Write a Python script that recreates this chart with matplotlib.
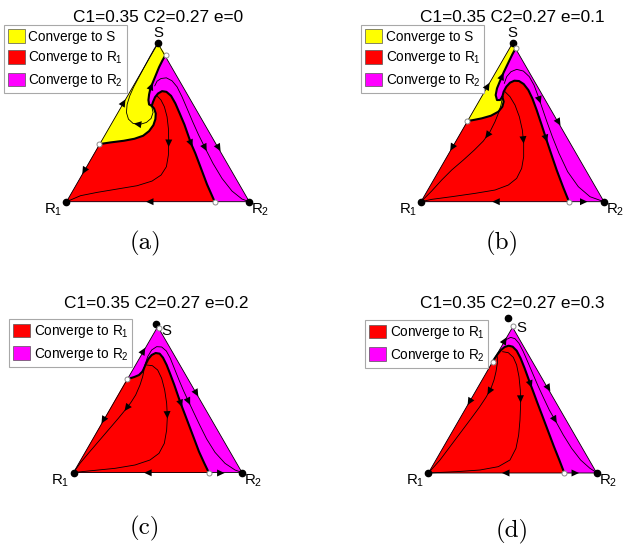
import numpy as np
import matplotlib
matplotlib.use('Agg')
import matplotlib.pyplot as plt
from matplotlib.patches import Patch, Polygon

plt.rcParams['font.family'] = 'Liberation Sans'
plt.rcParams['mathtext.fontset'] = 'custom'
plt.rcParams['mathtext.rm'] = 'Liberation Sans'
plt.rcParams['mathtext.it'] = 'Liberation Sans:italic'

YELLOW, RED, MAGENTA = '#ffff00', '#ff0000', '#ff00ff'

C1, C2 = 0.35, 0.27
E_VALUES = [0, 0.1, 0.2, 0.3]
CAPTIONS = ['(a)', '(b)', '(c)', '(d)']

# Points, in a reading grid per panel:
# frame = (R1 x, R1 y, base length) of that grid, y pointing down.
A_FRAME = (18, 500, 549)
A_SDOT = (293, 24)
A_SADDLES = [(316, 58), (117, 327), (463, 500)]
A_SEP = [(274, 212), (281, 220), (286, 235), (285, 252), (279, 270), (266, 288),
         (248, 302), (222, 311), (190, 317), (150, 322), (117, 327)]
A_TONGUE = [(274, 212), (278, 200), (284, 186), (293, 175), (305, 168), (318, 170),
            (332, 182), (345, 205), (358, 235), (372, 268), (392, 325), (405, 355),
            (422, 400), (440, 448), (463, 500)]
A_TOP = [(274, 212), (266, 208), (264, 195), (266, 178), (270, 160), (278, 140),
         (287, 118), (296, 96), (306, 76), (316, 58)]
A_SPIRAL = [(274, 214), (278, 232), (272, 250), (258, 262), (238, 268), (218, 265),
            (204, 252), (198, 232), (200, 208), (208, 182), (220, 155), (236, 125),
            (252, 95), (268, 65), (282, 40), (293, 24)]
A_MAG = [(283, 152), (290, 138), (302, 130), (318, 128), (335, 137), (350, 155),
         (365, 185), (380, 220), (397, 260), (415, 300), (435, 340), (458, 385),
         (485, 430), (515, 468), (545, 492), (567, 500)]
A_RED1 = [(290, 182), (302, 195), (312, 215), (320, 245), (324, 280), (325, 320),
          (324, 360), (318, 395), (302, 420), (275, 438), (230, 452), (170, 462),
          (110, 472), (60, 482), (18, 500)]
A_EDGES = [[(117, 327), (293, 24)], [(117, 327), (18, 500)],
           [(463, 500), (18, 500)], [(316, 58), (567, 500)]]
A_EDGE_ARROWS = [0.42, 0.48, 0.445, 0.64]

B_FRAME = (18, 500, 549)
B_SDOT = (293, 24)
B_SADDLES = [(303, 38), (157, 258), (462, 500)]
B_SEP = [(262, 185), (266, 200), (262, 215), (250, 230), (228, 242), (200, 250),
         (175, 255), (157, 258)]
B_TONGUE = [(262, 185), (266, 170), (274, 155), (285, 143), (298, 137), (312, 138),
            (326, 147), (340, 165), (352, 190), (365, 225), (380, 270), (393, 310),
            (408, 355), (425, 405), (445, 458), (462, 500)]
B_TOP = [(262, 185), (255, 195), (246, 195), (242, 180), (246, 160), (255, 138),
         (266, 112), (279, 85), (292, 58), (303, 38)]
B_MAG = [(268, 145), (275, 125), (288, 110), (305, 103), (325, 108), (343, 125),
         (357, 150), (370, 185), (382, 220), (395, 258), (412, 305), (432, 355),
         (458, 410), (490, 455), (525, 485), (567, 500)]
B_RED1 = [(262, 188), (258, 210), (250, 235), (240, 260), (225, 290), (205, 318),
          (178, 345), (145, 375), (110, 405), (80, 435), (50, 468), (18, 500)]
B_RED2 = [(270, 170), (285, 185), (300, 210), (313, 245), (322, 285), (326, 325),
          (326, 365), (320, 400), (305, 430), (280, 450), (240, 465), (180, 475),
          (110, 485), (50, 493), (18, 500)]
B_EDGES = [[(157, 258), (293, 24)], [(157, 258), (18, 500)],
           [(462, 500), (18, 500)], [(462, 500), (567, 500)], [(303, 38), (567, 500)]]
B_EDGE_ARROWS = [0.46, 0.34, 0.5, 0.45, 0.49]

C_FRAME = (25.5, 472.5, 505.5)
C_SDOT = (272, 28)
C_SADDLES = [(282, 38), (185, 193), (432, 474)]
C_SEP = [(237, 160), (232, 170), (222, 180), (208, 186), (195, 190), (185, 193)]
C_TONGUE = [(237, 160), (242, 148), (250, 132), (260, 120), (272, 114), (284, 116),
            (294, 128), (305, 150), (316, 178), (328, 210), (340, 245), (352, 278),
            (368, 320), (385, 365), (402, 410), (418, 445), (432, 474)]
C_MAG = [(240, 150), (248, 125), (260, 105), (275, 95), (290, 96), (304, 108),
         (316, 130), (328, 160), (342, 195), (356, 228), (370, 258), (386, 292),
         (404, 330), (425, 372), (450, 412), (480, 445), (510, 465), (530, 472)]
C_RED1 = [(237, 165), (233, 185), (225, 210), (212, 240), (198, 262), (183, 282),
          (160, 310), (130, 345), (100, 380), (70, 415), (45, 445), (25.5, 472.5)]
C_RED2 = [(245, 150), (262, 152), (278, 165), (290, 190), (299, 225), (305, 265),
          (307, 305), (305, 345), (298, 385), (282, 415), (255, 435), (210, 450),
          (150, 460), (90, 466), (25.5, 472.5)]
C_EDGES = [[(185, 193), (278, 35)], [(185, 193), (25.5, 472.5)],
           [(432, 474), (25.5, 472.5)], [(432, 474), (530, 474)], [(282, 38), (530, 472.5)]]
C_EDGE_ARROWS = [0.56, 0.45, 0.46, 0.4, 0.46]

D_FRAME = (25.2, 489, 505)
D_SDOT = (263, 25)
D_SADDLES = [(278, 48), (218, 155), (433, 489)]
D_ARCH = [(218, 155), (224, 145), (233, 132), (243, 120), (254, 111), (266, 107),
          (278, 110), (290, 122), (302, 145), (314, 175), (326, 208), (338, 240),
          (352, 278), (368, 320), (385, 365), (402, 410), (418, 450), (433, 489)]
D_MAG = [(250, 100), (260, 88), (272, 82), (285, 86), (297, 100), (310, 125),
         (323, 155), (338, 190), (353, 225), (370, 262), (388, 300), (408, 335),
         (430, 375), (455, 415), (482, 450), (510, 475), (532, 489)]
D_RED1 = [(232, 140), (232, 160), (228, 185), (222, 210), (213, 235), (198, 262),
          (178, 292), (150, 330), (120, 370), (90, 410), (60, 450), (25.2, 489)]
D_RED2 = [(248, 125), (265, 128), (280, 142), (290, 165), (297, 200), (301, 240),
          (302, 280), (300, 330), (296, 375), (288, 415), (270, 450), (235, 470),
          (180, 480), (110, 485), (25.2, 489)]
D_EDGES = [[(218, 155), (277.5, 51)], [(218, 155), (25.2, 489)],
           [(433, 489), (25.2, 489)], [(433, 489), (532, 489)], [(278, 48), (532, 489)]]
D_EDGE_ARROWS = [0.64, 0.37, 0.44, 0.37, 0.43]

# layout (figure pixels)
FIG_W, FIG_H = 623, 548
BOXES = [(0, 0, 311, 274), (311, 0, 312, 274), (0, 274, 311, 274), (311, 274, 312, 274)]
TRI_PIX = [(66.5, 201.7, 182.8), (421, 201.7, 183), (73.5, 472.5, 168.5), (428.4, 473, 168.3)]
LEG_POS = [(4, 25), (361, 25), (9, 319), (365, 320)]
TITLE_POS = [(158, 21.7), (512.5, 21.7), (156.7, 308.3), (512.5, 308.3)]
CAP_POS = [(146, 243), (502.5, 243), (145, 528), (511.7, 531)]

H = np.sqrt(3) / 2
fig = plt.figure(figsize=(FIG_W / 100, FIG_H / 100), dpi=100)


def to_tri(pts, frame):
    x0, y0, base = frame
    a = np.asarray(pts, float)
    return np.column_stack(((a[:, 0] - x0) / base, (y0 - a[:, 1]) / base))


def add_arrow(ax, pts, frac, size=9):
    seg = np.diff(pts, axis=0)
    seglen = np.hypot(seg[:, 0], seg[:, 1])
    cum = np.concatenate(([0], np.cumsum(seglen)))
    s = frac * cum[-1]
    i = int(np.clip(np.searchsorted(cum, s) - 1, 0, len(seg) - 1))
    p = pts[i] + (s - cum[i]) / seglen[i] * seg[i]
    d = seg[i] / seglen[i]
    ax.annotate('', xy=p + d * 0.015, xytext=p - d * 0.015,
                arrowprops=dict(arrowstyle='-|>,head_length=0.6,head_width=0.28',
                                color='k', lw=0, mutation_scale=size,
                                shrinkA=0, shrinkB=0), zorder=6)


def panel_axes(box, tri):
    bx, by, bw, bh = box
    rx, ry, w = tri
    ax = fig.add_axes([bx / FIG_W, 1 - (by + bh) / FIG_H, bw / FIG_W, bh / FIG_H])
    ax.set_xlim((bx - rx) / w, (bx + bw - rx) / w)
    ax.set_ylim((ry - by - bh) / w, (ry - by) / w)
    ax.axis('off')
    return ax


panels = [
    dict(frame=A_FRAME, sdot=A_SDOT, saddles=A_SADDLES, yellow=(A_SEP, A_TOP),
         red=(A_SEP, A_TONGUE), thick=[(A_SEP, None), (A_TONGUE, 0.57), (A_TOP, 0.4)],
         thin=[(A_SPIRAL, 0.235), (A_MAG, 0.58), (A_RED1, 0.28)],
         edges=A_EDGES, edge_arrows=A_EDGE_ARROWS, s_label='top'),
    dict(frame=B_FRAME, sdot=B_SDOT, saddles=B_SADDLES, yellow=(B_SEP, B_TOP),
         red=(B_SEP, B_TONGUE), thick=[(B_SEP, None), (B_TONGUE, 0.58), (B_TOP, 0.52)],
         thin=[(B_MAG, 0.33), (B_RED1, 0.31), (B_RED2, 0.28)],
         edges=B_EDGES, edge_arrows=B_EDGE_ARROWS, s_label='top'),
    dict(frame=C_FRAME, sdot=C_SDOT, saddles=C_SADDLES, yellow=None,
         red=(C_SEP, C_TONGUE), thick=[(C_SEP, None), (C_TONGUE, 0.52)],
         thin=[(C_MAG, 0.5), (C_RED1, 0.345), (C_RED2, 0.32)],
         edges=C_EDGES, edge_arrows=C_EDGE_ARROWS, s_label=(4, -8)),
    dict(frame=D_FRAME, sdot=D_SDOT, saddles=D_SADDLES, yellow=None,
         red=([D_ARCH[0]], D_ARCH), thick=[(D_ARCH, 0.43)],
         thin=[(D_MAG, 0.61), (D_RED1, 0.27), (D_RED2, 0.28)],
         edges=D_EDGES, edge_arrows=D_EDGE_ARROWS, s_label=(4, -4.5)),
]

for k, p in enumerate(panels):
    ax = panel_axes(BOXES[k], TRI_PIX[k])
    fr = p['frame']
    corners = np.array([[0, 0], [1, 0], [0.5, H]])
    ax.add_patch(Polygon(corners, closed=True, fc=MAGENTA, ec='none', zorder=1))
    if p['yellow'] is not None:
        sep, top = p['yellow']
        pts = np.vstack([[[0.5, H]], to_tri(sep[::-1], fr), to_tri(top, fr)])
        ax.add_patch(Polygon(pts, closed=True, fc=YELLOW, ec='none', zorder=2))
    sep, tongue = p['red']
    pts = np.vstack([[[0, 0]], to_tri(sep[::-1], fr), to_tri(tongue, fr)])
    ax.add_patch(Polygon(pts, closed=True, fc=RED, ec='none', zorder=2))

    ax.plot([0, 1, 0.5, 0], [0, 0, H, 0], color='k', lw=0.6, zorder=3)
    for curve, fa in p['thin']:
        c = to_tri(curve, fr)
        ax.plot(c[:, 0], c[:, 1], color='k', lw=0.6, zorder=4)
        add_arrow(ax, c, fa)
    for curve, fa in p['thick']:
        c = to_tri(curve, fr)
        ax.plot(c[:, 0], c[:, 1], color='k', lw=1.5, zorder=4, solid_capstyle='round')
        if fa is not None:
            add_arrow(ax, c, fa)
    for edge, fa in zip(p['edges'], p['edge_arrows']):
        add_arrow(ax, to_tri(edge, fr), fa)

    sd = to_tri([p['sdot']], fr)[0]
    ax.plot([0, 1, sd[0]], [0, 0, sd[1]], 'o', ms=4.5, color='k', zorder=7)
    sa = to_tri(p['saddles'], fr)
    ax.plot(sa[:, 0], sa[:, 1], 'o', ms=3.6, mfc='white', mec='#8c8c8c', mew=0.7, zorder=7)

    lab = dict(textcoords='offset pixels', fontsize=10.8, va='baseline', zorder=8)
    ax.annotate('R$_1$', xy=(0, 0), xytext=(-4, -12), ha='right', **lab)
    ax.annotate('R$_2$', xy=(1, 0), xytext=(2, -12), ha='left', **lab)
    if p['s_label'] == 'top':
        ax.annotate('S', xy=(0.5, H), xytext=(0, 6.5), ha='center', **lab)
    else:
        ax.annotate('S', xy=(0.5, H), xytext=p['s_label'], ha='left', **lab)

    handles = []
    if p['yellow'] is not None:
        handles.append(Patch(fc=YELLOW, ec='#555555', lw=0.5, label='Converge to S'))
    handles.append(Patch(fc=RED, ec='#555555', lw=0.5, label='Converge to R$_1$'))
    handles.append(Patch(fc=MAGENTA, ec='#555555', lw=0.5, label='Converge to R$_2$'))
    lx, ly = LEG_POS[k]
    leg = ax.legend(handles=handles, loc='upper left',
                    bbox_to_anchor=(lx / FIG_W, 1 - ly / FIG_H),
                    bbox_transform=fig.transFigure, fontsize=9.8, fancybox=False,
                    framealpha=1, edgecolor='#a8a8a8', borderpad=0.3,
                    labelspacing=0.42, handlelength=1.25, handleheight=1.2,
                    handletextpad=0.25, borderaxespad=0)
    leg.get_frame().set_linewidth(0.8)

    tx, ty = TITLE_POS[k]
    fig.text(tx / FIG_W, 1 - ty / FIG_H, 'C1=%g C2=%g e=%g' % (C1, C2, E_VALUES[k]),
             ha='center', va='baseline', fontsize=12.4)
    cx, cy = CAP_POS[k]
    fig.text(cx / FIG_W, 1 - cy / FIG_H, CAPTIONS[k], ha='center', va='center',
             fontsize=18, family='cmr10')

fig.savefig('out.png', dpi=100)
